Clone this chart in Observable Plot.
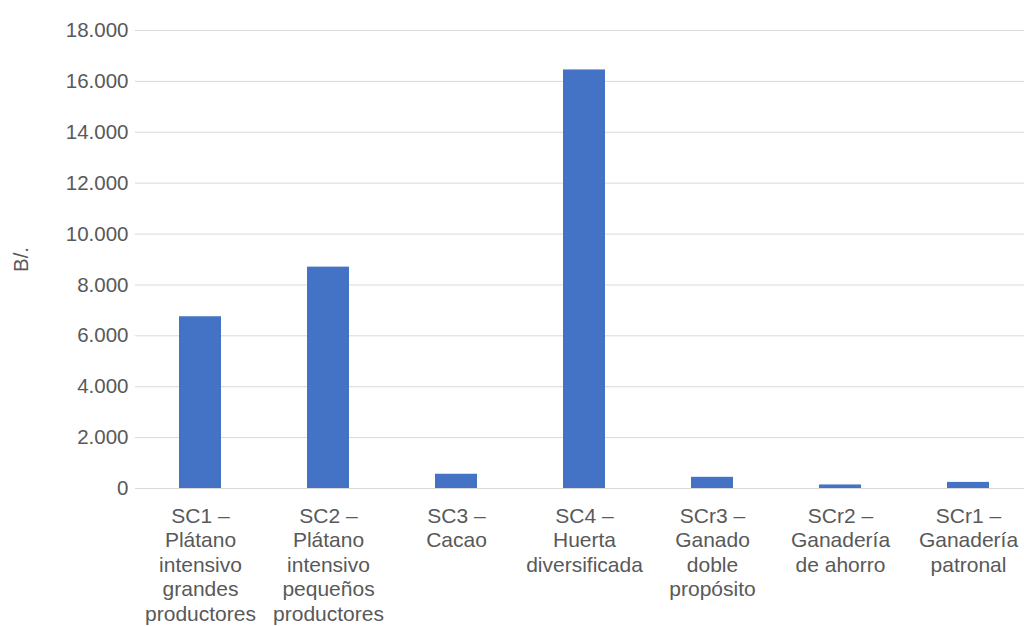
<!DOCTYPE html>
<html>
<head>
<meta charset="utf-8">
<script src="https://cdn.jsdelivr.net/npm/d3@7"></script>
<script src="https://cdn.jsdelivr.net/npm/@observablehq/plot@0.6"></script>
<style>
  html, body { margin: 0; padding: 0; background: #fff; overflow: hidden; }
  #chart { width: 1024px; height: 626px; overflow: hidden; }
  #chart svg { max-width: none !important; }
</style>
</head>
<body>
<div id="chart"></div>
<script>
const categories = [
  "SC1 –\nPlátano\nintensivo\ngrandes\nproductores",
  "SC2 –\nPlátano\nintensivo\npequeños\nproductores",
  "SC3 –\nCacao",
  "SC4 –\nHuerta\ndiversificada",
  "SCr3 –\nGanado\ndoble\npropósito",
  "SCr2 –\nGanadería\nde ahorro",
  "SCr1 –\nGanadería\npatronal"
];
const values = [6750, 8700, 560, 16450, 440, 140, 240];
const yTicks = [0, 2000, 4000, 6000, 8000, 10000, 12000, 14000, 16000, 18000];
const yLabel = "B/.";

const data = categories.map((c, i) => ({category: c, value: values[i]}));
const locale = d3.formatLocale({decimal: ",", thousands: ".", grouping: [3], currency: ["", ""]});
const fmt = locale.format(",d");

const chart = Plot.plot({
  width: 1034,
  height: 626,
  marginLeft: 135,
  marginRight: 0,
  marginTop: 30,
  marginBottom: 138,
  style: {fontFamily: "'Liberation Sans', Arial, sans-serif", fontSize: "20px", color: "#595959", background: "#fff", maxWidth: "none"},
  x: {domain: categories, paddingInner: 0.67, paddingOuter: 0.335},
  y: {domain: [0, 18000]},
  marks: [
    Plot.gridY(yTicks, {stroke: "#d9d9d9", strokeOpacity: 1, strokeWidth: 1}),
    Plot.barY(data, {x: "category", y: "value", fill: "#4472C4"}),
    Plot.axisY(yTicks, {tickSize: 0, tickPadding: 7, tickFormat: fmt, fill: "#595959", fontSize: 20.5,
      label: yLabel, labelAnchor: "center", labelArrow: "none", labelOffset: 122}),
    Plot.axisX({tickSize: 0, tickPadding: 17, lineHeight: 1.165, fill: "#595959", fontSize: 21, label: null})
  ]
});
document.getElementById("chart").appendChild(chart);
</script>
</body>
</html>
